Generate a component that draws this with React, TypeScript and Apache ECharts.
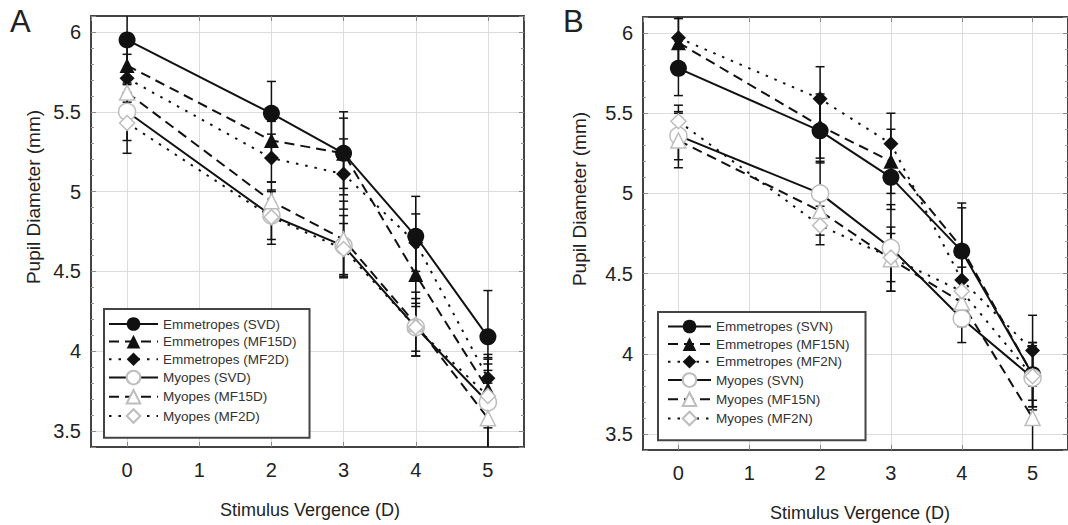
import React, { useEffect, useRef } from "react";
import * as echarts from "echarts";

// ---------- data ----------
const xValues = [0, 2, 3, 4, 5];

const namesA = [
  "Emmetropes (SVD)",
  "Emmetropes (MF15D)",
  "Emmetropes (MF2D)",
  "Myopes (SVD)",
  "Myopes (MF15D)",
  "Myopes (MF2D)",
];
const namesB = [
  "Emmetropes (SVN)",
  "Emmetropes (MF15N)",
  "Emmetropes (MF2N)",
  "Myopes (SVN)",
  "Myopes (MF15N)",
  "Myopes (MF2N)",
];

// Panel A means
const emmSV_A = [5.95, 5.49, 5.24, 4.72, 4.09];
const emmMF15_A = [5.79, 5.32, 5.24, 4.48, 3.76];
const emmMF2_A = [5.71, 5.21, 5.11, 4.68, 3.83];
const myoSV_A = [5.5, 4.85, 4.66, 4.15, 3.68];
const myoMF15_A = [5.62, 4.94, 4.7, 4.17, 3.58];
const myoMF2_A = [5.43, 4.84, 4.64, 4.15, 3.72];
// Panel A error (SD)
const errEmmSV_A = [0.25, 0.2, 0.26, 0.25, 0.29];
const errEmmMF15_A = [0.12, 0.12, 0.22, 0.2, 0.2];
const errEmmMF2_A = [0.15, 0.15, 0.22, 0.18, 0.12];
const errMyoSV_A = [0.18, 0.15, 0.19, 0.15, 0.3];
const errMyoMF15_A = [0.1, 0.12, 0.24, 0.2, 0.3];
const errMyoMF2_A = [0.19, 0.17, 0.16, 0.18, 0.2];

// Panel B means
const emmSV_B = [5.78, 5.39, 5.1, 4.64, 3.87];
const emmMF15_B = [5.94, 5.42, 5.2, 4.66, 3.87];
const emmMF2_B = [5.97, 5.59, 5.31, 4.46, 4.02];
const myoSV_B = [5.36, 5.0, 4.66, 4.22, 3.85];
const myoMF15_B = [5.33, 4.89, 4.59, 4.32, 3.6];
const myoMF2_B = [5.45, 4.8, 4.6, 4.39, 3.86];
// Panel B error (SD)
const errEmmSV_B = [0.17, 0.2, 0.2, 0.3, 0.2];
const errEmmMF15_B = [0.15, 0.2, 0.2, 0.25, 0.2];
const errEmmMF2_B = [0.15, 0.2, 0.19, 0.2, 0.22];
const errMyoSV_B = [0.15, 0.2, 0.27, 0.15, 0.2];
const errMyoMF15_B = [0.17, 0.15, 0.2, 0.15, 0.25];
const errMyoMF2_B = [0.1, 0.12, 0.15, 0.15, 0.15];

const yTitle = "Pupil Diameter (mm)";
const xTitle = "Stimulus Vergence (D)";

// ---------- styles ----------
const FONT = "'Liberation Sans', Arial, Helvetica, sans-serif";
const lineTypes: any[] = ["solid", [10, 6], [2.5, 7], "solid", [10, 6], [2.5, 7]];
const symbols = ["circle", "triangle", "diamond", "circle", "triangle", "diamond"];
const symbolSizes = [17, 15, 15, 17, 15, 15];

function lineSeries(name: string, values: number[], idx: number, axis: number) {
  const open = idx >= 3;
  return {
    type: "line",
    name,
    xAxisIndex: axis,
    yAxisIndex: axis,
    data: values.map((v, i) => [xValues[i], v]),
    symbol: symbols[idx],
    symbolSize: symbolSizes[idx],
    showAllSymbol: true,
    z: 3,
    lineStyle: { color: "#111", width: 2, type: lineTypes[idx] },
    itemStyle: open
      ? { color: "#ffffff", borderColor: "#bdbdbd", borderWidth: 1.5 }
      : { color: "#111", borderColor: "#111", borderWidth: 0 },
  };
}

function errorSeries(axis: number, means: number[][], errs: number[][]) {
  const data: number[][] = [];
  means.forEach((m, s) => {
    m.forEach((v, i) => {
      data.push([xValues[i], v - errs[s][i], v + errs[s][i]]);
    });
  });
  return {
    type: "custom",
    xAxisIndex: axis,
    yAxisIndex: axis,
    clip: true,
    silent: true,
    z: 2,
    data,
    encode: { x: 0, y: [1, 2] },
    renderItem: (params: any, api: any) => {
      const x = api.value(0);
      const lo = api.value(1);
      const hi = api.value(2);
      const p1 = api.coord([x, hi]);
      const p2 = api.coord([x, lo]);
      const w = 4.5;
      const st = { stroke: "#111", lineWidth: 1.5 };
      return {
        type: "group",
        children: [
          { type: "line", shape: { x1: p1[0], y1: p1[1], x2: p2[0], y2: p2[1] }, style: st },
          { type: "line", shape: { x1: p1[0] - w, y1: p1[1], x2: p1[0] + w, y2: p1[1] }, style: st },
          { type: "line", shape: { x1: p2[0] - w, y1: p2[1], x2: p2[0] + w, y2: p2[1] }, style: st },
        ],
      };
    },
  };
}

const frameColor = "#444";

function xAxes(grid: number) {
  const base = {
    gridIndex: grid,
    type: "value",
    min: -0.5,
    max: 5.5,
    splitNumber: 5,
    axisLine: { show: true, onZero: false, lineStyle: { color: frameColor, width: 2 } },
    axisTick: { show: true, inside: true, length: 5, lineStyle: { color: "#888", width: 1 } },
  };
  return [
    {
      ...base,
      position: "bottom",
      axisLabel: {
        show: true,
        showMinLabel: false,
        showMaxLabel: false,
        color: "#222",
        fontSize: 20,
        fontFamily: FONT,
        margin: 13,
      },
      splitLine: { show: true, lineStyle: { color: "#dcdcdc", width: 1 } },
    },
    {
      ...base,
      position: "top",
      axisLabel: { show: false },
      splitLine: { show: false },
    },
  ];
}

function yAxes(grid: number) {
  const base = {
    gridIndex: grid,
    type: "value",
    min: 3.4,
    max: 6.1,
    splitNumber: 5,
    axisLine: { show: true, onZero: false, lineStyle: { color: frameColor, width: 2 } },
    axisTick: { show: true, inside: true, length: 5, lineStyle: { color: "#888", width: 1 } },
    minorTick: { show: true, splitNumber: 5, length: 3, lineStyle: { color: "#999", width: 1 } },
  };
  return [
    {
      ...base,
      position: "left",
      axisLabel: {
        show: true,
        showMinLabel: false,
        showMaxLabel: false,
        color: "#222",
        fontSize: 20,
        fontFamily: FONT,
        margin: 10,
      },
      splitLine: { show: true, lineStyle: { color: "#dcdcdc", width: 1 } },
    },
    {
      ...base,
      position: "right",
      axisLabel: { show: false },
      splitLine: { show: false },
    },
  ];
}

function legendFor(names: string[], left: number, top: number, padding: number[], itemWidth: number, itemGap: number) {
  return {
    data: names,
    orient: "vertical",
    left,
    top,
    padding,
    itemWidth,
    itemHeight: 17,
    itemGap,
    borderColor: "#444",
    borderWidth: 2,
    borderRadius: 0,
    backgroundColor: "#ffffff",
    selectedMode: false,
    textStyle: { fontSize: 13.5, color: "#333", fontFamily: FONT },
  };
}

export default function App() {
  const ref = useRef<HTMLDivElement>(null);

  useEffect(() => {
    if (!ref.current) return;
    const chart = echarts.init(ref.current, null, { renderer: "svg" });

    const meansA = [emmSV_A, emmMF15_A, emmMF2_A, myoSV_A, myoMF15_A, myoMF2_A];
    const errsA = [errEmmSV_A, errEmmMF15_A, errEmmMF2_A, errMyoSV_A, errMyoMF15_A, errMyoMF2_A];
    const meansB = [emmSV_B, emmMF15_B, emmMF2_B, myoSV_B, myoMF15_B, myoMF2_B];
    const errsB = [errEmmSV_B, errEmmMF15_B, errEmmMF2_B, errMyoSV_B, errMyoMF15_B, errMyoMF2_B];

    const option: any = {
      animation: false,
      backgroundColor: "#ffffff",
      grid: [
        { left: 91, top: 16, width: 433, height: 431 },
        { left: 643, top: 17, width: 433, height: 433 },
      ],
      xAxis: [...xAxes(0), ...xAxes(1)],
      yAxis: [...yAxes(0), ...yAxes(1)],
      legend: [
        legendFor(namesA, 104, 309, [8, 13, 14, 4], 49, 3.6),
        legendFor(namesB, 658, 312, [7.5, 16, 14, 9], 43, 3.6),
      ],
      series: [
        errorSeries(0, meansA, errsA),
        errorSeries(2, meansB, errsB),
        ...meansA.map((m, i) => lineSeries(namesA[i], m, i, 0)),
        ...meansB.map((m, i) => lineSeries(namesB[i], m, i, 2)),
      ],
      graphic: [
        { type: "text", left: 10, top: 6, style: { text: "A", fontSize: 31, fontFamily: FONT, fill: "#222" } },
        { type: "text", left: 563, top: 6, style: { text: "B", fontSize: 31, fontFamily: FONT, fill: "#222" } },
        {
          type: "text",
          x: 33,
          y: 197,
          rotation: Math.PI / 2,
          style: { text: yTitle, fontSize: 19, fontFamily: FONT, fill: "#222", align: "center", verticalAlign: "middle" },
        },
        {
          type: "text",
          x: 579,
          y: 199,
          rotation: Math.PI / 2,
          style: { text: yTitle, fontSize: 19, fontFamily: FONT, fill: "#222", align: "center", verticalAlign: "middle" },
        },
        {
          type: "text",
          x: 310,
          y: 510,
          style: { text: xTitle, fontSize: 18, fontFamily: FONT, fill: "#222", align: "center", verticalAlign: "middle" },
        },
        {
          type: "text",
          x: 860,
          y: 513,
          style: { text: xTitle, fontSize: 18, fontFamily: FONT, fill: "#222", align: "center", verticalAlign: "middle" },
        },
      ],
    };

    chart.setOption(option);
    return () => chart.dispose();
  }, []);

  return (
    <div
      ref={ref}
      style={{ position: "absolute", left: 0, top: 0, width: 1068, height: 525, background: "#fff" }}
    />
  );
}
